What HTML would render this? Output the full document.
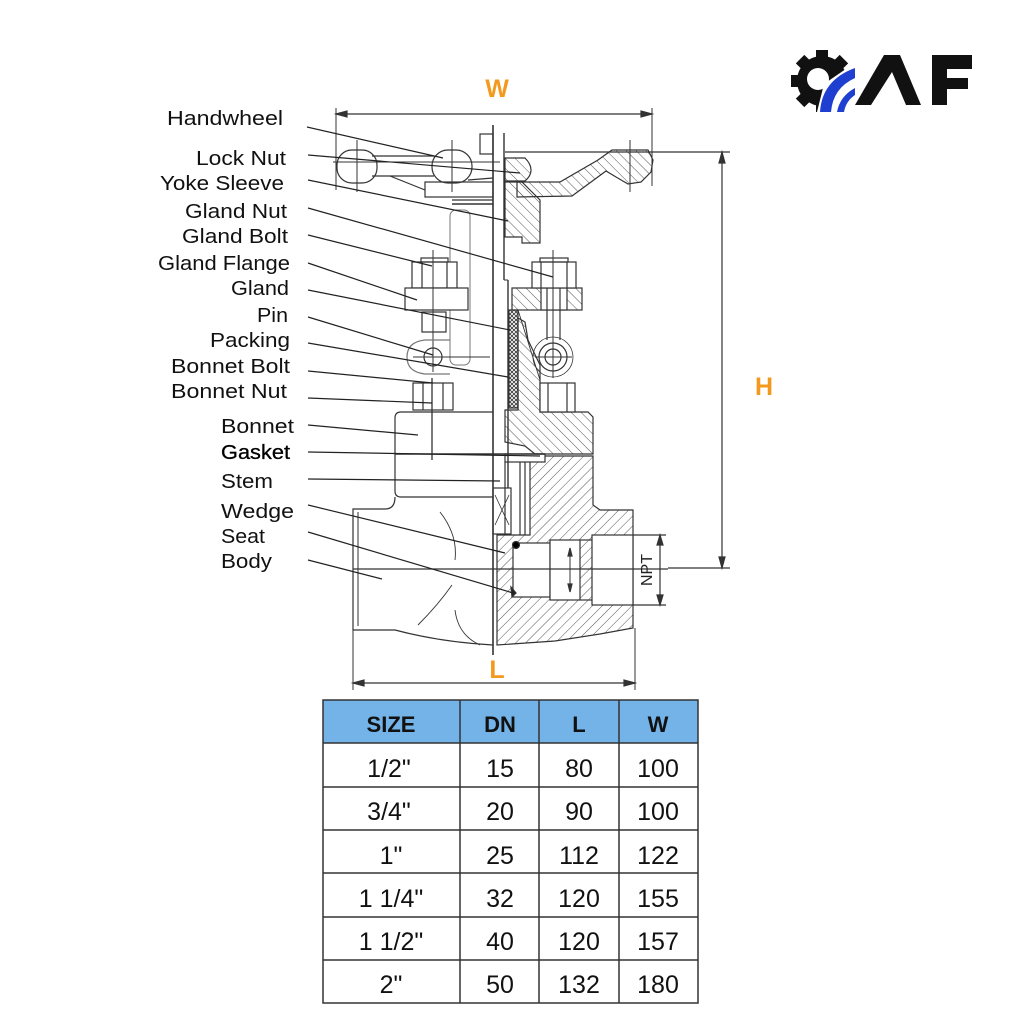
<!DOCTYPE html>
<html><head><meta charset="utf-8"><style>
html,body{margin:0;padding:0;background:#fff;}
svg{display:block;}
</style></head><body>
<svg width="1024" height="1024" viewBox="0 0 1024 1024" xmlns="http://www.w3.org/2000/svg">
<defs>
<pattern id="hb" patternUnits="userSpaceOnUse" width="7" height="7" patternTransform="rotate(45)"><line x1="0" y1="0" x2="0" y2="7" stroke="#555" stroke-width="1"/></pattern>
<pattern id="hf" patternUnits="userSpaceOnUse" width="7" height="7" patternTransform="rotate(-45)"><line x1="0" y1="0" x2="0" y2="7" stroke="#555" stroke-width="1"/></pattern>
<pattern id="px" patternUnits="userSpaceOnUse" width="4" height="4"><path d="M0,0L4,4M4,0L0,4" stroke="#333" stroke-width="0.8"/></pattern>
</defs>
<rect width="1024" height="1024" fill="#fff"/>

<!-- LOGO -->
<g>
  <g fill="#111">
    <circle cx="822" cy="81" r="25"/>
    <g transform="translate(822,81)">
      <rect x="-6" y="-31" width="12" height="10"/>
      <rect x="-6" y="-31" width="12" height="10" transform="rotate(45)"/>
      <rect x="-6" y="-31" width="12" height="10" transform="rotate(90)"/>
      <rect x="-6" y="-31" width="12" height="10" transform="rotate(135)"/>
      <rect x="-6" y="-31" width="12" height="10" transform="rotate(180)"/>
      <rect x="-6" y="-31" width="12" height="10" transform="rotate(225)"/>
      <rect x="-6" y="-31" width="12" height="10" transform="rotate(270)"/>
      <rect x="-6" y="-31" width="12" height="10" transform="rotate(315)"/>
    </g>
  </g>
  <circle cx="818" cy="79" r="11" fill="#fff"/>
  <polygon points="824,84 856,62 860,116 816,116" fill="#fff"/>
  <path d="M820,112 Q822,80 855,68 L855,78 Q833,88 831,112 Z" fill="#1f3fd0"/>
  <path d="M837,112 Q840,96 855,88 L855,95 Q846,101 844,112 Z" fill="#1f3fd0"/>
  <polygon points="855,105 884,55 900,55 921,105 906,105 892,72 871,105" fill="#111"/>
  <rect x="932" y="55" width="15" height="50" fill="#111"/>
  <rect x="932" y="55" width="40" height="14" fill="#111"/>
  <rect x="932" y="78" width="36" height="11" fill="#111"/>
</g>

<!-- LABELS -->
<g font-family="'Liberation Sans', sans-serif" font-size="20" fill="#111">
  <text x="167" y="125" textLength="116" lengthAdjust="spacingAndGlyphs">Handwheel</text>
  <text x="196" y="165" textLength="90" lengthAdjust="spacingAndGlyphs">Lock Nut</text>
  <text x="160" y="190" textLength="124" lengthAdjust="spacingAndGlyphs">Yoke Sleeve</text>
  <text x="185" y="218" textLength="102" lengthAdjust="spacingAndGlyphs">Gland Nut</text>
  <text x="182" y="243" textLength="106" lengthAdjust="spacingAndGlyphs">Gland Bolt</text>
  <text x="158" y="270" textLength="132" lengthAdjust="spacingAndGlyphs">Gland Flange</text>
  <text x="231" y="295" textLength="58" lengthAdjust="spacingAndGlyphs">Gland</text>
  <text x="257" y="322" textLength="31" lengthAdjust="spacingAndGlyphs">Pin</text>
  <text x="210" y="347" textLength="80" lengthAdjust="spacingAndGlyphs">Packing</text>
  <text x="171" y="373" textLength="119" lengthAdjust="spacingAndGlyphs">Bonnet Bolt</text>
  <text x="171" y="398" textLength="116" lengthAdjust="spacingAndGlyphs">Bonnet Nut</text>
  <text x="221" y="433" textLength="73" lengthAdjust="spacingAndGlyphs">Bonnet</text>
  <text x="221" y="459" textLength="69" lengthAdjust="spacingAndGlyphs" fill="#000" stroke="#000" stroke-width="0.3">Gasket</text>
  <text x="221" y="488" textLength="52" lengthAdjust="spacingAndGlyphs">Stem</text>
  <text x="221" y="518" textLength="73" lengthAdjust="spacingAndGlyphs">Wedge</text>
  <text x="221" y="543" textLength="44" lengthAdjust="spacingAndGlyphs">Seat</text>
  <text x="221" y="568" textLength="51" lengthAdjust="spacingAndGlyphs">Body</text>
</g>

<!-- DRAWING -->
<g stroke="#333" stroke-width="1.2" fill="none">
  <!-- body right hatched -->
  <path d="M530,456 L593,456 L593,505 L600,510 L633,510 L633,628 L600,634 L555,641 L497,645 L497,535 L530,535 Z" fill="url(#hb)"/>
  <rect x="513" y="543" width="37" height="54" fill="#fff"/>
  <rect x="550" y="540" width="30" height="60" fill="#fff"/>
  <rect x="592" y="535" width="41" height="70" fill="#fff"/>
  <line x1="580" y1="540" x2="592" y2="540"/>
  <line x1="580" y1="600" x2="592" y2="600"/>
  <line x1="570" y1="548" x2="570" y2="592" stroke-width="1"/>
  <polygon points="570,548 568,556 572,556" fill="#333"/>
  <polygon points="570,592 568,584 572,584" fill="#333"/>
  <circle cx="516" cy="545" r="3.5" fill="#000"/>
  <path d="M511,587 L516,593 L512,597 Z" fill="#222"/>

  <!-- region between bonnet and body -->
  <line x1="505" y1="462" x2="505" y2="535"/>
  <line x1="520" y1="462" x2="520" y2="535"/>
  <line x1="525" y1="462" x2="525" y2="535"/>
  <rect x="493" y="488" width="18" height="46"/>
  <path d="M495,495 L509,525 M509,495 L495,525" stroke-width="0.8"/>
  <rect x="505" y="454" width="40" height="8" fill="#fff"/>

  <!-- bonnet right hatched -->
  <path d="M518,318 L525,322 L528,340 L540,365 L540,412 L588,412 L593,417 L593,454 L535,454 L525,446 L505,442 L505,410 L518,410 Z" fill="url(#hf)"/>
  <rect x="540" y="383" width="35" height="29" fill="#fff"/>
  <line x1="548" y1="383" x2="548" y2="412"/>
  <line x1="567" y1="383" x2="567" y2="412"/>

  <!-- packing -->
  <rect x="509" y="310" width="9" height="98" fill="url(#px)"/>

  <!-- gland flange right hatched -->
  <rect x="512" y="288" width="70" height="22" fill="url(#hf)"/>
  <rect x="541" y="288" width="26" height="22" fill="#fff"/>
  <rect x="532" y="262" width="44" height="26" fill="#fff"/>
  <rect x="540" y="258" width="28" height="4"/>
  <line x1="541" y1="262" x2="541" y2="288"/>
  <line x1="567" y1="262" x2="567" y2="288"/>
  <line x1="547" y1="288" x2="547" y2="340"/>
  <line x1="560" y1="288" x2="560" y2="340"/>
  <line x1="553" y1="250" x2="553" y2="378" stroke-width="1"/>
  <circle cx="553" cy="357" r="8"/>
  <circle cx="553" cy="357" r="14"/>
  <circle cx="553" cy="357" r="20" stroke-width="0.8"/>
  <line x1="535" y1="357" x2="572" y2="357" stroke-width="1"/>
  <path d="M518,310 L540,380" stroke-width="0.9"/>

  <!-- yoke sleeve right -->
  <path d="M505,182 L522,182 L530,190 L540,200 L540,243 L522,243 L522,237 L505,237 Z" fill="url(#hf)"/>
  <!-- handwheel right -->
  <path d="M517,182 L560,182 L598,160 L612,150 L648,150 L653,160 L651,172 L641,182 L628,184 L616,177 L606,171 L572,196 L517,197 Z" fill="url(#hf)"/>
  <path d="M505,158 L525,158 Q531,164 531,170 Q531,176 525,181 L505,181 Z" fill="url(#hf)"/>
  <line x1="505" y1="152" x2="730" y2="152"/>
  <line x1="630" y1="140" x2="630" y2="192" stroke-width="1"/>

  <!-- stem -->
  <line x1="504" y1="133" x2="504" y2="280" stroke-width="1.4"/>
  <line x1="508" y1="280" x2="508" y2="488" stroke-width="1.4"/>
  <line x1="504" y1="280" x2="508" y2="280" stroke-width="1"/>
  <rect x="480" y="134" width="13" height="20"/>

  <!-- handwheel left -->
  <rect x="337" y="150" width="40" height="33" rx="15" fill="#fff"/>
  <rect x="432" y="150" width="40" height="33" rx="16" fill="#fff"/>
  <line x1="372" y1="156" x2="434" y2="156"/>
  <line x1="372" y1="176" x2="434" y2="176"/>
  <line x1="333" y1="162" x2="500" y2="162" stroke-width="1"/>
  <line x1="357" y1="140" x2="357" y2="192" stroke-width="1"/>
  <line x1="452" y1="140" x2="452" y2="192" stroke-width="1"/>
  <path d="M390,176 L425,190 M468,180 L493,178"/>
  <rect x="425" y="182" width="68" height="15"/>
  <line x1="452" y1="200" x2="493" y2="200"/>
  <line x1="452" y1="204" x2="493" y2="204" stroke-width="1.6"/>
  <rect x="450" y="210" width="20" height="155" rx="6" stroke="#777" stroke-width="1"/>

  <!-- gland bolt left -->
  <rect x="412" y="262" width="45" height="26" fill="#fff"/>
  <rect x="421" y="258" width="27" height="4"/>
  <line x1="422" y1="262" x2="422" y2="288"/>
  <line x1="447" y1="262" x2="447" y2="288"/>
  <rect x="405" y="288" width="63" height="22" fill="#fff"/>
  <rect x="422" y="312" width="24" height="20"/>
  <line x1="433" y1="250" x2="433" y2="372" stroke-width="1"/>
  <path d="M450,340 L425,340 Q407,342 407,357 Q407,372 425,374 L450,374" stroke="#777"/>
  <circle cx="433" cy="357" r="9"/>
  <line x1="413" y1="357" x2="490" y2="357" stroke-width="1"/>

  <!-- bonnet left -->
  <rect x="413" y="383" width="40" height="27" fill="#fff"/>
  <line x1="423" y1="383" x2="423" y2="410"/>
  <line x1="443" y1="383" x2="443" y2="410"/>
  <path d="M493,412 L401,412 Q395,412 395,418 L395,491 Q395,497 401,497 L493,497"/>
  <line x1="395" y1="454" x2="545" y2="454" stroke-width="1.4"/>
  <line x1="432" y1="378" x2="432" y2="460" stroke-width="1.3"/>

  <!-- body left -->
  <path d="M395,497 Q395,509 385,509 L353,509 L353,630 L395,630 Q440,642 493,645"/>
  <line x1="358" y1="512" x2="358" y2="626" stroke-width="1"/>
  <path d="M440,512 Q458,535 455,560 M418,625 Q438,605 452,585 M455,610 Q458,635 480,645" stroke-width="0.9"/>

  <!-- centre line -->
  <line x1="493" y1="125" x2="493" y2="655" stroke-width="1.6"/>
  <line x1="353" y1="569" x2="668" y2="569" stroke-width="1.2"/>

  <!-- dimensions -->
  <line x1="336" y1="114" x2="652" y2="114"/>
  <line x1="336" y1="108" x2="336" y2="190" stroke-width="1"/>
  <line x1="652" y1="108" x2="652" y2="186" stroke-width="1"/>
  <polygon points="336,114 347,111 347,117" fill="#333"/>
  <polygon points="652,114 641,111 641,117" fill="#333"/>

  <line x1="722" y1="152" x2="722" y2="568"/>
  <line x1="668" y1="568" x2="730" y2="568"/>
  <polygon points="722,152 719,163 725,163" fill="#333"/>
  <polygon points="722,568 719,557 725,557" fill="#333"/>

  <line x1="353" y1="683" x2="635" y2="683"/>
  <line x1="353" y1="509" x2="353" y2="690" stroke-width="1"/>
  <line x1="635" y1="628" x2="635" y2="690" stroke-width="1"/>
  <polygon points="353,683 364,680 364,686" fill="#333"/>
  <polygon points="635,683 624,680 624,686" fill="#333"/>

  <line x1="660" y1="535" x2="660" y2="605"/>
  <line x1="633" y1="535" x2="666" y2="535"/>
  <line x1="633" y1="605" x2="666" y2="605"/>
  <polygon points="660,535 657,545 663,545" fill="#333"/>
  <polygon points="660,605 657,595 663,595" fill="#333"/>

  <!-- leaders -->
  <g stroke="#222" stroke-width="1.2">
    <line x1="307" y1="127" x2="443" y2="158"/>
    <line x1="308" y1="155" x2="520" y2="173"/>
    <line x1="308" y1="180" x2="508" y2="221"/>
    <line x1="308" y1="208" x2="553" y2="277"/>
    <line x1="308" y1="235" x2="432" y2="266"/>
    <line x1="308" y1="263" x2="417" y2="300"/>
    <line x1="308" y1="290" x2="510" y2="330"/>
    <line x1="308" y1="317" x2="433" y2="355"/>
    <line x1="308" y1="343" x2="508" y2="377"/>
    <line x1="308" y1="371" x2="433" y2="383"/>
    <line x1="308" y1="398" x2="432" y2="403"/>
    <line x1="308" y1="425" x2="418" y2="435"/>
    <line x1="308" y1="452" x2="540" y2="456"/>
    <line x1="308" y1="479" x2="500" y2="481"/>
    <line x1="308" y1="505" x2="505" y2="553"/>
    <line x1="308" y1="532" x2="513" y2="593"/>
    <line x1="308" y1="560" x2="382" y2="579"/>
  </g>
</g>

<text x="652" y="570" font-family="'Liberation Sans', sans-serif" font-size="16" fill="#222" text-anchor="middle" transform="rotate(-90 652 570)">NPT</text>

<g font-family="'Liberation Sans', sans-serif" font-weight="bold" font-size="25" fill="#f39a1e" text-anchor="middle">
  <text x="497" y="97">W</text>
  <text x="764" y="395">H</text>
  <text x="497" y="678">L</text>
</g>

<!-- TABLE -->
<g>
  <rect x="323" y="700" width="375" height="43" fill="#74b3e8"/>
  <g stroke="#333" stroke-width="1.5" fill="none">
    <rect x="323" y="700" width="375" height="303"/>
    <line x1="323" y1="743" x2="698" y2="743"/>
    <line x1="323" y1="787" x2="698" y2="787"/>
    <line x1="323" y1="830" x2="698" y2="830"/>
    <line x1="323" y1="873" x2="698" y2="873"/>
    <line x1="323" y1="917" x2="698" y2="917"/>
    <line x1="323" y1="960" x2="698" y2="960"/>
    <line x1="460" y1="700" x2="460" y2="1003"/>
    <line x1="539" y1="700" x2="539" y2="1003"/>
    <line x1="619" y1="700" x2="619" y2="1003"/>
  </g>
  <g font-family="'Liberation Sans', sans-serif" font-weight="bold" font-size="22" fill="#111" text-anchor="middle">
    <text x="391" y="732">SIZE</text>
    <text x="500" y="732">DN</text>
    <text x="579" y="732">L</text>
    <text x="658" y="732">W</text>
  </g>
  <g font-family="'Liberation Sans', sans-serif" font-size="25" fill="#111" text-anchor="middle">
    <text x="389" y="777">1/2"</text><text x="500" y="777">15</text><text x="579" y="777">80</text><text x="658" y="777">100</text>
    <text x="389" y="820">3/4"</text><text x="500" y="820">20</text><text x="579" y="820">90</text><text x="658" y="820">100</text>
    <text x="391" y="864">1"</text><text x="500" y="864">25</text><text x="579" y="864">112</text><text x="658" y="864">122</text>
    <text x="391" y="907">1 1/4"</text><text x="500" y="907">32</text><text x="579" y="907">120</text><text x="658" y="907">155</text>
    <text x="391" y="950">1 1/2"</text><text x="500" y="950">40</text><text x="579" y="950">120</text><text x="658" y="950">157</text>
    <text x="391" y="993">2"</text><text x="500" y="993">50</text><text x="579" y="993">132</text><text x="658" y="993">180</text>
  </g>
</g>
</svg>
</body></html>
